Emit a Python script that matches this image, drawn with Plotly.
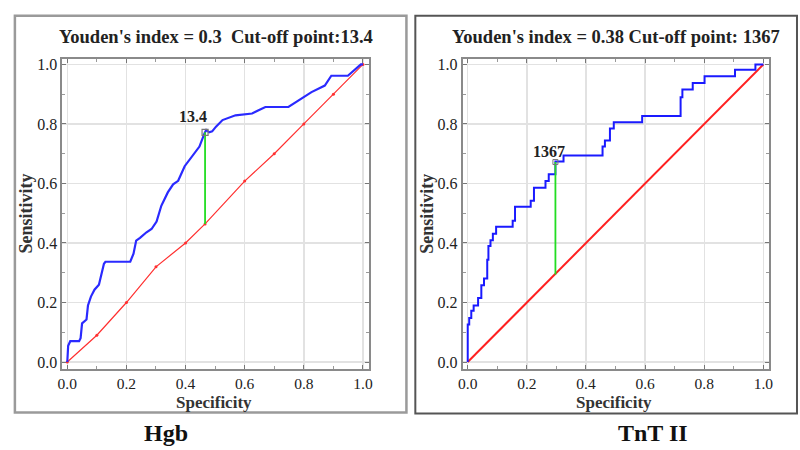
import plotly.graph_objects as go

# ---- data ----
hgb_spec = [0, 0.003, 0.01, 0.04, 0.045, 0.05, 0.065, 0.07, 0.08, 0.092, 0.107, 0.115, 0.124, 0.129,
            0.213, 0.224, 0.233, 0.246, 0.268, 0.285, 0.302, 0.318, 0.34, 0.358, 0.375, 0.397, 0.425,
            0.447, 0.464, 0.47, 0.48, 0.49, 0.503, 0.525, 0.569, 0.625, 0.647, 0.67, 0.748, 0.782,
            0.826, 0.871, 0.893, 0.949, 0.993, 1.0]
hgb_sens = [0, 0.055, 0.07, 0.07, 0.08, 0.13, 0.143, 0.19, 0.22, 0.243, 0.26, 0.29, 0.33, 0.337,
            0.337, 0.364, 0.408, 0.417, 0.436, 0.447, 0.472, 0.525, 0.57, 0.597, 0.609, 0.658, 0.697,
            0.724, 0.768, 0.78, 0.772, 0.775, 0.791, 0.813, 0.829, 0.835, 0.846, 0.857, 0.857, 0.879,
            0.907, 0.929, 0.962, 0.962, 1.0, 1.0]
hgb_ref_x = [0, 0.1, 0.2, 0.3, 0.4, 0.466, 0.6, 0.7, 0.8, 0.9, 1.0]
hgb_ref_y = [0, 0.09, 0.2, 0.32, 0.4, 0.464, 0.608, 0.7, 0.8, 0.9, 1.0]
hgb_cut = {"x": 0.466, "y_low": 0.464, "y_high": 0.772, "label": "13.4"}

tnt_spec = [0, 0, 0.005, 0.012, 0.02, 0.035, 0.046, 0.055, 0.066, 0.07, 0.077, 0.085, 0.096,
            0.152, 0.16, 0.213, 0.224, 0.263, 0.274, 0.2966, 0.324, 0.456, 0.464, 0.481, 0.494,
            0.59, 0.72, 0.726, 0.761, 0.801, 0.904, 0.973, 1.0]
tnt_sens = [0, 0.126, 0.148, 0.172, 0.19, 0.215, 0.258, 0.281, 0.344, 0.39, 0.409, 0.431, 0.455,
            0.475, 0.522, 0.542, 0.586, 0.608, 0.631, 0.674, 0.694, 0.724, 0.744, 0.785, 0.806,
            0.827, 0.89, 0.916, 0.938, 0.96, 0.982, 1.0, 1.0]
tnt_ref_x = [0, 1]
tnt_ref_y = [0, 1]
tnt_cut = {"x": 0.2966, "y_low": 0.294, "y_high": 0.672, "label": "1367"}

titles = ["Youden's index = 0.3  Cut-off point:13.4", "Youden's index = 0.38 Cut-off point: 1367"]
panel_names = ["Hgb", "TnT II"]
ticks = [0.0, 0.2, 0.4, 0.6, 0.8, 1.0]
tick_text = ["0.0", "0.2", "0.4", "0.6", "0.8", "1.0"]

W, H = 800, 450
SERIF = "Liberation Serif"

fig = go.Figure()

def px(x):
    return x / W

def py(y):
    return 1 - y / H

# plot frames in pixels: (left, right, top, bottom)
frames = [(58, 368, 57, 370), (463, 773, 57, 370)]

# Left panel
fig.add_trace(go.Scatter(x=hgb_ref_x, y=hgb_ref_y, mode="lines+markers",
                         line=dict(color="#ff3030", width=1.2), marker=dict(size=3, color="#ff3030"),
                         xaxis="x", yaxis="y", showlegend=False, hoverinfo="skip"))
fig.add_trace(go.Scatter(x=hgb_spec, y=hgb_sens, mode="lines",
                         line=dict(color="#2a2aff", width=2.2),
                         xaxis="x", yaxis="y", showlegend=False))
fig.add_trace(go.Scatter(x=[hgb_cut["x"], hgb_cut["x"]], y=[hgb_cut["y_low"], hgb_cut["y_high"]],
                         mode="lines", line=dict(color="#22dd22", width=1.8),
                         xaxis="x", yaxis="y", showlegend=False))
fig.add_trace(go.Scatter(x=[hgb_cut["x"]], y=[hgb_cut["y_high"]], mode="markers",
                         marker=dict(symbol="square-open", size=6, color="#777777", line=dict(width=1.2)),
                         xaxis="x", yaxis="y", showlegend=False))

# Right panel
fig.add_trace(go.Scatter(x=tnt_ref_x, y=tnt_ref_y, mode="lines",
                         line=dict(color="#ff2020", width=2),
                         xaxis="x2", yaxis="y2", showlegend=False, hoverinfo="skip"))
fig.add_trace(go.Scatter(x=tnt_spec, y=tnt_sens, mode="lines", line_shape="hv",
                         line=dict(color="#1a1aff", width=2),
                         xaxis="x2", yaxis="y2", showlegend=False))
fig.add_trace(go.Scatter(x=[tnt_cut["x"], tnt_cut["x"]], y=[tnt_cut["y_low"], tnt_cut["y_high"]],
                         mode="lines", line=dict(color="#22dd22", width=1.8),
                         xaxis="x2", yaxis="y2", showlegend=False))
fig.add_trace(go.Scatter(x=[tnt_cut["x"]], y=[tnt_cut["y_high"]], mode="markers",
                         marker=dict(symbol="square-open", size=5, color="#777777", line=dict(width=1)),
                         xaxis="x2", yaxis="y2", showlegend=False))

axis_common = dict(range=[-0.0167, 1.02], tickvals=ticks, ticktext=tick_text,
                   showgrid=True, gridcolor="#e2e2e2", gridwidth=1.5, zeroline=False,
                   showline=True, linecolor="#8a8a8a", linewidth=2, mirror="ticks",
                   ticks="inside", ticklen=4, tickcolor="#777777",
                   minor=dict(tickvals=[0.1, 0.3, 0.5, 0.7, 0.9], ticks="inside", ticklen=3,
                              tickcolor="#999999", showgrid=False),
                   tickfont=dict(family=SERIF, size=16, color="#222222"), fixedrange=True)
yaxis_common = dict(axis_common)
yaxis_common["range"] = [-0.023, 1.017]
xaxis_common = dict(axis_common)
xaxis_common["ticklabelstandoff"] = 0
xaxis_common["tickfont"] = dict(family=SERIF, size=15.5, color="#222222")

l, r, t, b = frames[0]
fig.update_layout(
    xaxis=dict(xaxis_common, domain=[px(l), px(r)], anchor="y"),
    yaxis=dict(yaxis_common, domain=[py(b), py(t)], anchor="x"),
)
l, r, t, b = frames[1]
fig.update_layout(
    xaxis2=dict(xaxis_common, domain=[px(l), px(r)], anchor="y2"),
    yaxis2=dict(yaxis_common, domain=[py(b), py(t)], anchor="x2"),
)

annotations = []
for i, (l, r, t, b) in enumerate(frames):
    cx = (l + r) / 2
    annotations.append(dict(text="<b>%s</b>" % titles[i], x=px(cx), y=py(34), xref="paper", yref="paper",
                            showarrow=False, xanchor="center", yanchor="middle",
                            font=dict(family=SERIF, size=18.5, color="#222222")))
    annotations.append(dict(text="<b>Specificity</b>", x=px(cx - 2), y=py(404), xref="paper", yref="paper",
                            showarrow=False, xanchor="center", yanchor="middle",
                            font=dict(family=SERIF, size=17, color="#333333")))
    annotations.append(dict(text="<b>Sensitivity</b>", x=px(l - 37), y=py(213), xref="paper", yref="paper",
                            showarrow=False, xanchor="center", yanchor="middle", textangle=-90,
                            font=dict(family=SERIF, size=18, color="#333333")))

annotations.append(dict(text="<b>Hgb</b>", x=px(163), y=py(435), xref="paper", yref="paper",
                        showarrow=False, xanchor="center", yanchor="middle",
                        font=dict(family=SERIF, size=24, color="#111111")))
annotations.append(dict(text="<b>TnT II</b>", x=px(655), y=py(435), xref="paper", yref="paper",
                        showarrow=False, xanchor="center", yanchor="middle",
                        font=dict(family=SERIF, size=24, color="#111111")))

annotations.append(dict(text="<b>%s</b>" % hgb_cut["label"], x=0.425, y=0.824, xref="x", yref="y",
                        showarrow=False, xanchor="center", yanchor="middle",
                        font=dict(family=SERIF, size=16, color="#222222")))
annotations.append(dict(text="<b>%s</b>" % tnt_cut["label"], x=0.274, y=0.708, xref="x2", yref="y2",
                        showarrow=False, xanchor="center", yanchor="middle",
                        font=dict(family=SERIF, size=16, color="#222222")))

shapes = [
    dict(type="rect", xref="paper", yref="paper", x0=px(10), x1=px(406), y0=py(414), y1=py(13),
         line=dict(color="#9a9a9a", width=2.5)),
    dict(type="rect", xref="paper", yref="paper", x0=px(415), x1=px(801), y0=py(415), y1=py(13),
         line=dict(color="#555555", width=2)),
]

fig.update_layout(width=W, height=H, margin=dict(l=0, r=0, t=0, b=0),
                  paper_bgcolor="white", plot_bgcolor="white",
                  annotations=annotations, shapes=shapes, showlegend=False)

fig.write_html("out.html", config={"displayModeBar": False, "staticPlot": True},
               post_script="document.body.style.margin='0px';document.body.style.overflow='hidden';")
